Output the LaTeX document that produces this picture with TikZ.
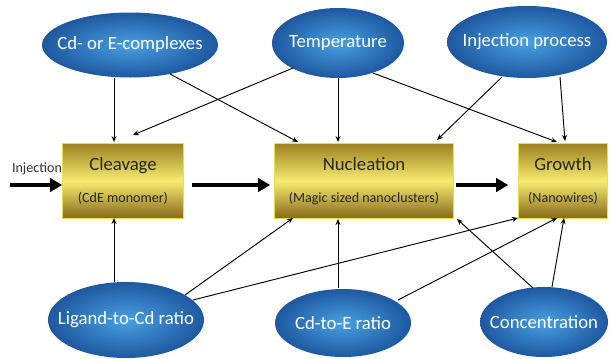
\documentclass[tikz,border=0pt]{standalone}
\usepackage{fontspec}
\setmainfont{Carlito}
\usetikzlibrary{shapes.geometric,arrows.meta,calc}

\definecolor{ellin}{RGB}{72,160,226}
\definecolor{ellout}{RGB}{30,88,160}
\definecolor{boxdark}{RGB}{158,128,32}
\definecolor{boxlight}{RGB}{246,236,112}
\definecolor{boxbot}{RGB}{136,104,26}
\definecolor{boxline}{RGB}{236,222,70}
\newcommand{\stgsub}{\fontsize{12}{14}\selectfont}

\begin{document}
\begin{tikzpicture}[
  x=0.03cm, y=-0.03cm,
  fac/.style={
    ellipse, inner sep=0pt, inner color=ellin, outer color=ellout,
    text=white, font=\fontsize{16}{18}\selectfont,
    execute at begin node={\hbox to 0pt\bgroup\hss},
    execute at end node={\hss\egroup}
  },
  stg/.style={
    rectangle, draw=boxline, line width=0.5pt, inner sep=0pt,
    top color=boxdark, bottom color=boxbot, middle color=boxlight,
    align=center, text=black!85, font=\fontsize{16}{18}\selectfont,
    minimum height=2.25cm
  },
  infl/.style={-{Stealth[length=1.8mm,width=1.5mm]}, line width=0.8pt},
  flow/.style={-{Triangle[length=3.6mm,width=4mm]}, line width=1.2mm}
]
\useasboundingbox (0,0) rectangle (610,358);

% Einflussgroessen oben
\node[fac, minimum width=5.28cm, minimum height=1.95cm] (cdx)  at (130,45) {Cd- or E-complexes};
\node[fac, minimum width=3.96cm, minimum height=2.1cm]  (temp) at (338,43) {Temperature};
\node[fac, minimum width=4.8cm,  minimum height=2.16cm] (inj)  at (527,42) {Injection process};

% Stufen
\node[stg, minimum width=3.63cm] (clv) at (123,181) {Cleavage\\[9.5pt]{\stgsub (CdE monomer)}};
\node[stg, minimum width=5.37cm] (nuc) at (364,181) {Nucleation\\[9.5pt]{\stgsub (Magic sized nanoclusters)}};
\node[stg, minimum width=2.67cm] (grw) at (563,181) {Growth\\[9.5pt]{\stgsub (Nanowires)}};

% Einflussgroessen unten
\node[fac, minimum width=4.68cm, minimum height=2.28cm] (lig)  at (126,320) {Ligand-to-Cd ratio};
\node[fac, minimum width=4.08cm, minimum height=2.04cm] (cde)  at (343,323) {Cd-to-E ratio};
\node[fac, minimum width=3.84cm, minimum height=2.1cm]  (conc) at (544,322) {Concentration};

% Injektion
\node[font=\fontsize{12}{14}\selectfont, text=black!80] (injlbl) at (37,169) {Injection};
\coordinate (injin) at (10,185);

% -- Hauptpfad --
\draw[flow] (injin) -- ($(clv.west)+(0,4)$);
\draw[flow] ($(clv.east)+(8,4)$) -- ($(nuc.west)+(-4,4)$);
\draw[flow] ($(nuc.east)+(2,4)$) -- ($(grw.west)+(-10,4)$);

% -- Einfluesse von oben --
\draw[infl] ($(cdx)+(-16,33)$)  -- ($(clv)+(-9,-39)$);
\draw[infl] ($(cdx)+(40,29)$)   -- ($(nuc)+(-66,-39)$);
\draw[infl] ($(temp)+(-45,25)$) -- ($(clv)+(10,-46)$);
\draw[infl] ($(temp)+(0,35)$)   -- ($(nuc)+(-26,-39)$);
\draw[infl] ($(temp)+(35,30)$)  -- ($(grw)+(-6,-39)$);
\draw[infl] ($(inj)+(-25,35)$)  -- ($(nuc)+(73,-41)$);
\draw[infl] ($(inj)+(33,35)$)   -- ($(grw)+(2,-40)$);

% -- Einfluesse von unten --
\draw[infl] ($(lig)+(-12,-38)$) -- ($(clv)+(-9,37)$);
\draw[infl] ($(lig)+(59,-25)$)  -- ($(nuc)+(-71,37)$);
\draw[infl] ($(lig)+(67,-20)$)  -- ($(grw)+(-45,37)$);
\draw[infl] ($(cde)+(-5,-35)$)  -- ($(nuc)+(-26,38)$);
\draw[infl] ($(cde)+(55,-23)$)  -- ($(grw)+(-6,37)$);
\draw[infl] ($(conc)+(-11,-34)$) -- ($(nuc)+(93,38)$);
\draw[infl] ($(conc)+(8,-35)$)  -- ($(grw)+(1,37)$);

\end{tikzpicture}
\end{document}
